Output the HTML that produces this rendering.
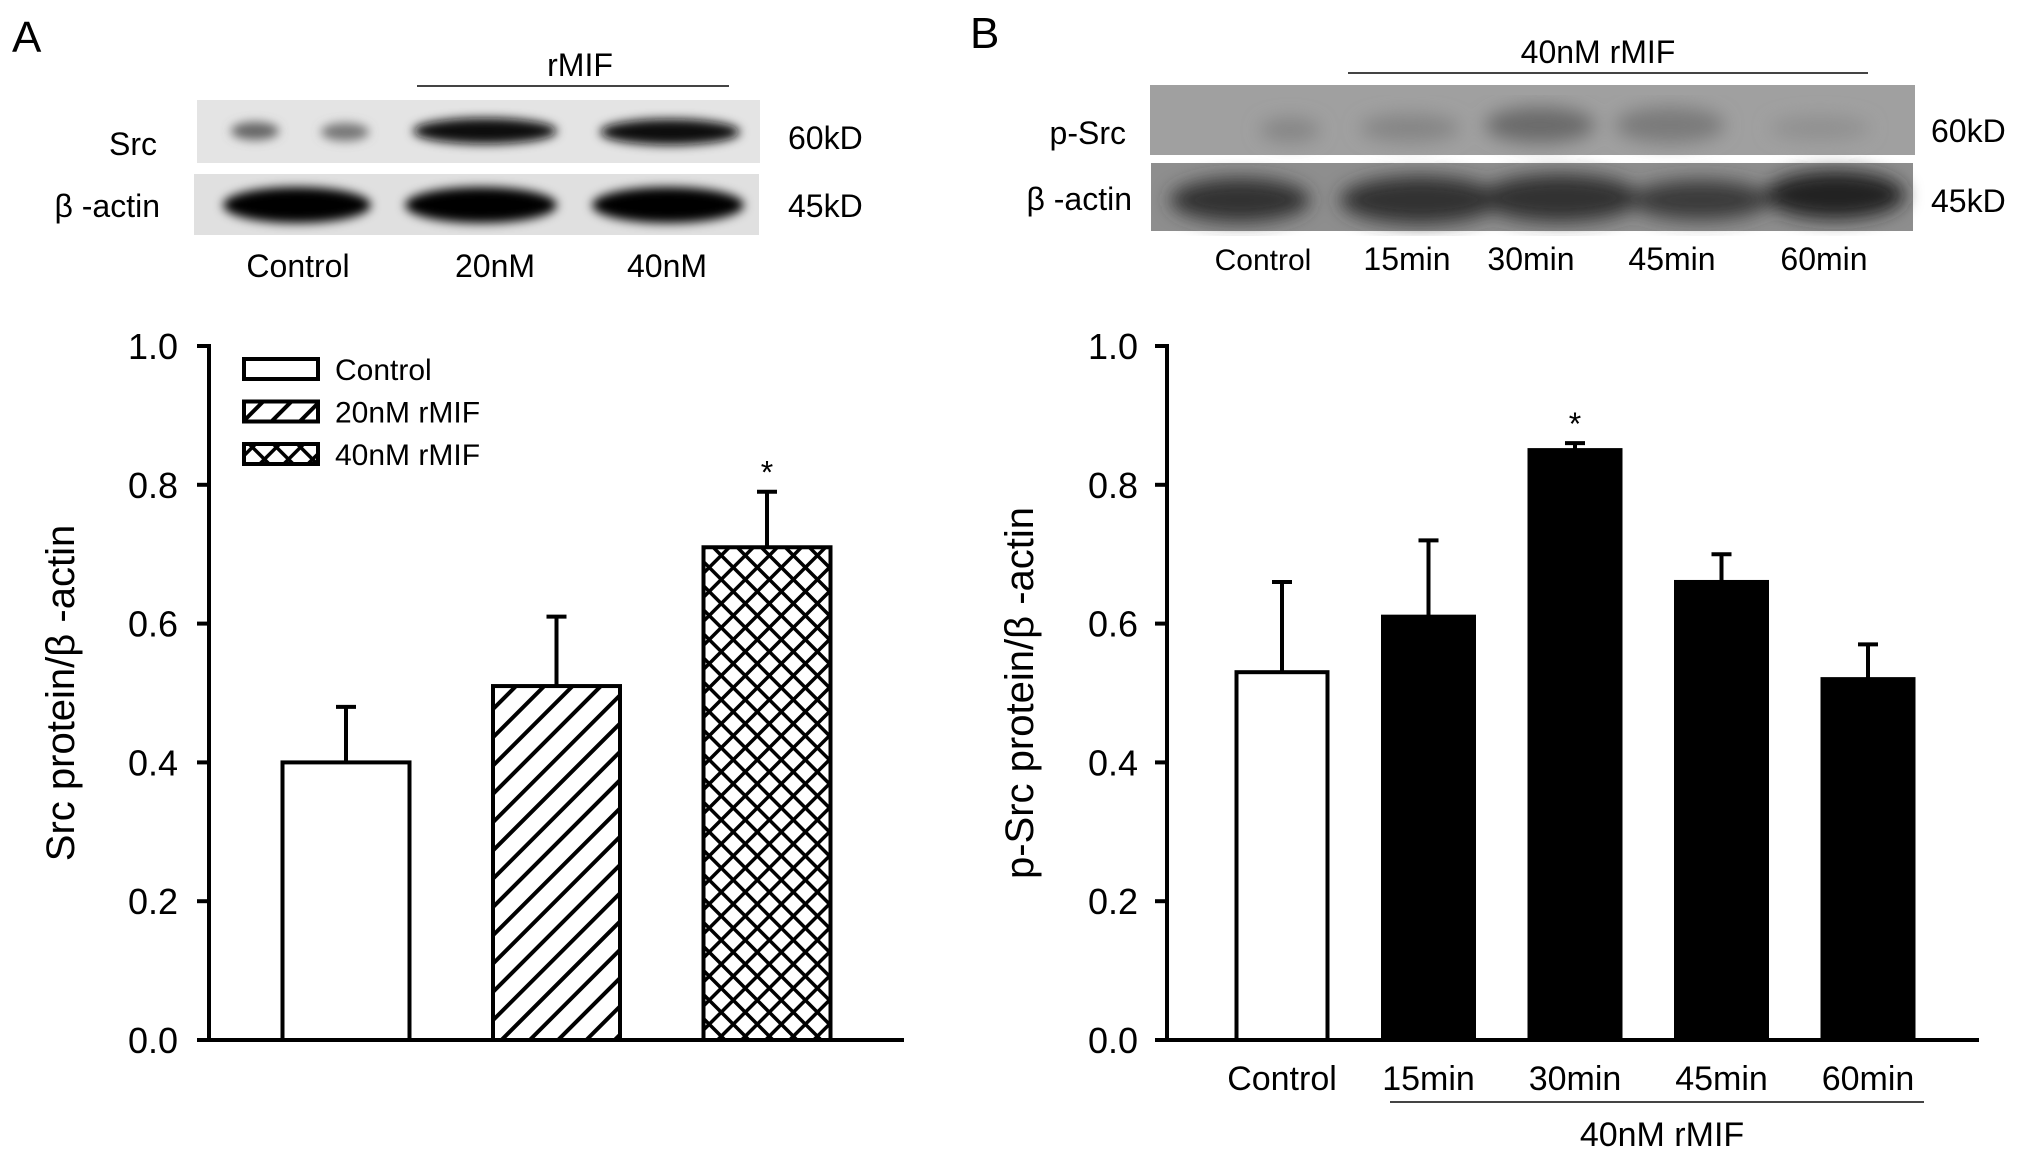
<!DOCTYPE html>
<html><head><meta charset="utf-8"><style>
html,body{margin:0;padding:0;background:#fff;}
svg{display:block;font-family:"Liberation Sans Narrow","Liberation Sans",sans-serif;}
.t{font-family:"Liberation Sans",sans-serif;}
</style></head><body>
<svg id="fig" width="2031" height="1160" viewBox="0 0 2031 1160" xmlns="http://www.w3.org/2000/svg">
<defs>
<pattern id="hatch" patternUnits="userSpaceOnUse" width="20" height="20" patternTransform="rotate(-45)">
<rect width="20" height="20" fill="#fff"/><line x1="0" y1="10" x2="20" y2="10" stroke="#000" stroke-width="4"/></pattern>
<pattern id="cross" patternUnits="userSpaceOnUse" width="17" height="17" patternTransform="rotate(45)">
<rect width="17" height="17" fill="#fff"/><line x1="0" y1="0" x2="17" y2="0" stroke="#000" stroke-width="7"/><line x1="0" y1="0" x2="0" y2="17" stroke="#000" stroke-width="7"/></pattern>
<filter id="blur4"><feGaussianBlur stdDeviation="5"/></filter>
<filter id="blur8"><feGaussianBlur stdDeviation="9"/></filter>
</defs>

<text x="12" y="52" font-size="44" class="t">A</text>
<text x="970" y="48" font-size="44" class="t">B</text>

<!-- Blot A -->
<g>
<text x="580" y="76" font-size="32" text-anchor="middle">rMIF</text>
<line x1="417" y1="86" x2="729" y2="86" stroke="#444" stroke-width="2"/>
<rect x="197" y="100" width="563" height="63" fill="#e4e4e4"/>
<rect x="194" y="174" width="565" height="61" fill="#e0e0e0"/>
<g filter="url(#blur4)">
<ellipse cx="255" cy="131" rx="24" ry="9" fill="#666"/>
<ellipse cx="345" cy="132" rx="24" ry="9" fill="#777"/>
<ellipse cx="485" cy="131" rx="72" ry="13" fill="#111"/>
<ellipse cx="670" cy="132" rx="70" ry="13" fill="#111"/>
<ellipse cx="297" cy="205" rx="74" ry="18" fill="#000"/>
<ellipse cx="481" cy="205" rx="76" ry="18" fill="#000"/>
<ellipse cx="668" cy="205" rx="76" ry="18" fill="#000"/>
</g>
<text x="157" y="155" font-size="32" text-anchor="end">Src</text>
<text x="160" y="217" font-size="32" text-anchor="end">β -actin</text>
<text x="788" y="149" font-size="32">60kD</text>
<text x="788" y="217" font-size="32">45kD</text>
<text x="298" y="277" font-size="32" text-anchor="middle">Control</text>
<text x="495" y="277" font-size="32" text-anchor="middle">20nM</text>
<text x="667" y="277" font-size="32" text-anchor="middle">40nM</text>
</g>

<!-- Blot B -->
<g>
<text x="1598" y="63" font-size="32" text-anchor="middle">40nM rMIF</text>
<line x1="1348" y1="73" x2="1868" y2="73" stroke="#444" stroke-width="2"/>
<rect x="1150" y="85" width="765" height="70" fill="#a0a0a0"/>
<rect x="1151" y="163" width="762" height="68" fill="#8e8e8e"/>
<g filter="url(#blur8)">
<ellipse cx="1290" cy="130" rx="30" ry="12" fill="#858585"/>
<ellipse cx="1410" cy="128" rx="50" ry="14" fill="#858585"/>
<ellipse cx="1540" cy="125" rx="55" ry="18" fill="#6a6a6a"/>
<ellipse cx="1670" cy="125" rx="55" ry="18" fill="#7a7a7a"/>
<ellipse cx="1820" cy="128" rx="50" ry="12" fill="#909090"/>
<ellipse cx="1240" cy="200" rx="70" ry="22" fill="#333"/>
<ellipse cx="1420" cy="200" rx="80" ry="24" fill="#303030"/>
<ellipse cx="1560" cy="198" rx="80" ry="24" fill="#333"/>
<ellipse cx="1700" cy="200" rx="70" ry="20" fill="#3a3a3a"/>
<ellipse cx="1835" cy="195" rx="70" ry="24" fill="#222"/>
</g>
<text x="1126" y="144" font-size="32" text-anchor="end">p-Src</text>
<text x="1132" y="210" font-size="32" text-anchor="end">β -actin</text>
<text x="1931" y="142" font-size="32">60kD</text>
<text x="1931" y="212" font-size="32">45kD</text>
<text x="1263" y="270" font-size="30" text-anchor="middle">Control</text>
<text x="1407" y="270" font-size="32" text-anchor="middle">15min</text>
<text x="1531" y="270" font-size="32" text-anchor="middle">30min</text>
<text x="1672" y="270" font-size="32" text-anchor="middle">45min</text>
<text x="1824" y="270" font-size="32" text-anchor="middle">60min</text>
</g>

<g id="chartA"></g>
<g id="chartB"></g>
</svg>
<script>
const ticks = [0.0, 0.2, 0.4, 0.6, 0.8, 1.0];
const tickLabels = ["0.0", "0.2", "0.4", "0.6", "0.8", "1.0"];
const catsA = ["Control", "20nM rMIF", "40nM rMIF"];
const valsA = [0.40, 0.51, 0.71];
const errA = [0.08, 0.10, 0.08];
const sigA = [false, false, true];
const catsB = ["Control", "15min", "30min", "45min", "60min"];
const valsB = [0.53, 0.61, 0.85, 0.66, 0.52];
const errB = [0.13, 0.11, 0.01, 0.04, 0.05];
const sigB = [false, false, true, false, false];

const NS = "http://www.w3.org/2000/svg";
function mk(parent, tag, attrs, text) {
  const e = document.createElementNS(NS, tag);
  for (const k in attrs) e.setAttribute(k, attrs[k]);
  if (text !== undefined) e.textContent = text;
  parent.appendChild(e);
  return e;
}
const y0 = 1040, y1 = 346;
function yScale(v) { return y0 - (v - 0) / (1.0 - 0) * (y0 - y1); }

function axes(g, ax, axEnd, labelX, title, titleX) {
  const a = mk(g, "line", {x1: ax, y1: y1 - 2, x2: ax, y2: y0 + 1.5, stroke: "#000", "stroke-width": 4});
  
  
  const b = mk(g, "line", {x1: ax - 2, y1: y0, x2: axEnd, y2: y0, stroke: "#000", "stroke-width": 4});
  
  
  ticks.forEach((t, i) => {
    const y = yScale(t);
    const tk = mk(g, "line", {x1: ax - 12, y1: y, x2: ax, y2: y, stroke: "#000", "stroke-width": 4});
    
    
    const tl = mk(g, "text", {x: labelX, y: y + 13, "font-size": 36, "text-anchor": "end"}, tickLabels[i]);
    
    
  });
  const tt = mk(g, "text", {x: 0, y: 0, "font-size": 40, "text-anchor": "middle", "class": "t",
    transform: "translate(" + titleX + ",693) rotate(-90)"}, title);
  
  
}

function bars(g, cats, vals, errs, sigs, centers, width, fills, capW) {
  cats.forEach((c, i) => {
    const cx = centers[i], top = yScale(vals[i]), et = yScale(vals[i] + errs[i]);
    const el = mk(g, "line", {x1: cx, y1: top, x2: cx, y2: et, stroke: "#000", "stroke-width": 4});
    
    
    const cp = mk(g, "line", {x1: cx - capW / 2, y1: et, x2: cx + capW / 2, y2: et, stroke: "#000", "stroke-width": 4});
    
    
    const r = mk(g, "rect", {x: cx - width / 2, y: top, width: width, height: y0 - top, fill: fills[i], stroke: "#000", "stroke-width": 4});
    
    
    if (sigs[i]) {
      const s = mk(g, "text", {x: cx, y: et - 8, "font-size": 32, "text-anchor": "middle", "class": "t"}, "*");
      
      
    }
  });
}

// Chart A
const gA = document.getElementById("chartA");
axes(gA, 209, 904, 178, "Src protein/β -actin", 74);
const centersA = catsA.map((c, i) => 346 + i * 210.5);
const fillsA = ["#fff", "url(#hatch)", "url(#cross)"];
bars(gA, catsA, valsA, errA, sigA, centersA, 127, fillsA, 20);
catsA.forEach((c, i) => {
  const y = 369 + i * 42.5;
  const box = mk(gA, "rect", {x: 244, y: y - 10, width: 74, height: 20, fill: fillsA[i], stroke: "#000", "stroke-width": 4});
  
  
  const lt = mk(gA, "text", {x: 335, y: y + 11, "font-size": 30}, c);
  
  
});

// Chart B
const gB = document.getElementById("chartB");
axes(gB, 1167, 1979, 1138, "p-Src protein/β -actin", 1033);
const centersB = catsB.map((c, i) => 1282 + i * 146.5);
const fillsB = catsB.map((c, i) => i === 0 ? "#fff" : "#000");
bars(gB, catsB, valsB, errB, sigB, centersB, 91, fillsB, 20);
catsB.forEach((c, i) => {
  const xl = mk(gB, "text", {x: centersB[i], y: 1090, "font-size": 34, "text-anchor": "middle"}, c);
  
  
});
const gl = mk(gB, "line", {x1: 1390, y1: 1102, x2: 1924, y2: 1102, stroke: "#444", "stroke-width": 2});


const gt = mk(gB, "text", {x: 1662, y: 1146, "font-size": 34, "text-anchor": "middle"}, "40nM rMIF");


</script>
</body></html>
